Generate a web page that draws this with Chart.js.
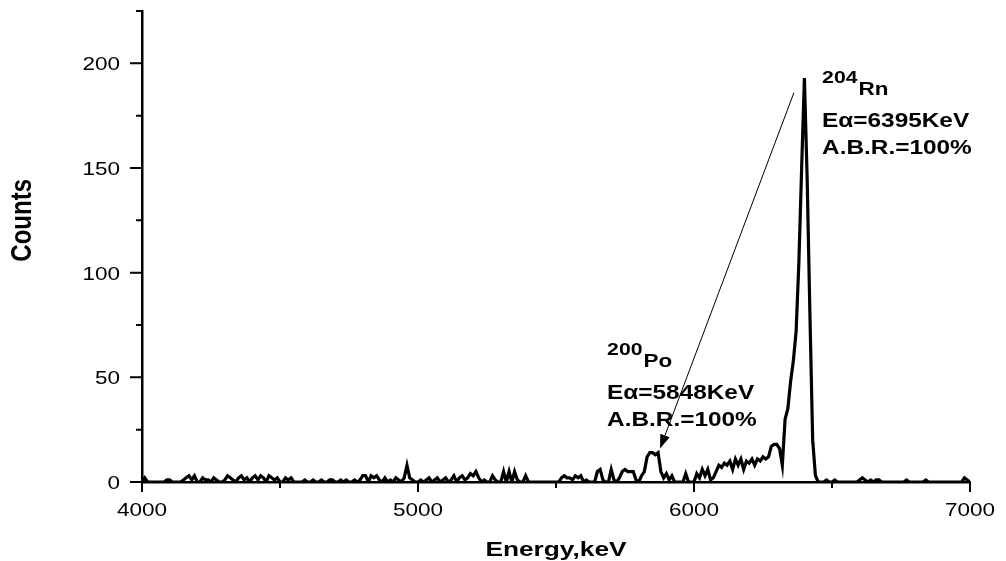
<!DOCTYPE html>
<html>
<head>
<meta charset="utf-8">
<script src="https://cdn.jsdelivr.net/npm/chart.js@4.4.0/dist/chart.umd.min.js"></script>
<style>
html, body { margin: 0; padding: 0; background: #fff; }
</style>
</head>
<body>
<canvas id="spectrumChart" width="1006" height="561"></canvas>
<script>
// alpha spectrum, 10 keV bins starting at 4000 keV
const binStart = 4000
const binWidth = 10
const counts = [
    0, 2, 0, 0, 0, 0, 0, 0, 0, 1,
    1, 0, 0, 0, 0, 1, 2, 3, 1, 3,
    0, 0, 2, 1, 1, 0, 2, 1, 0, 0,
    1, 3, 2, 1, 0, 2, 3, 1, 2, 0,
    2, 3, 1, 3, 2, 0, 3, 2, 1, 2,
    0, 0, 2, 1, 2, 0, 0, 0, 0, 1,
    0, 0, 1, 0, 0, 1, 0, 0, 1, 1,
    0, 0, 1, 0, 1, 0, 0, 1, 0, 1,
    3, 3, 0, 3, 2, 3, 1, 0, 2, 0,
    1, 0, 2, 1, 0, 2, 8, 2, 1, 0,
    0, 1, 0, 1, 2, 0, 1, 2, 0, 1,
    2, 0, 1, 3, 0, 2, 3, 1, 2, 4,
    3, 5, 2, 0, 1, 0, 0, 3, 1, 0,
    0, 5, 0, 5, 0, 5, 1, 0, 0, 3,
    0, 0, 0, 0, 0, 0, 0, 0, 0, 0,
    0, 0, 2, 3, 2, 2, 1, 3, 2, 3,
    0, 1, 0, 0, 0, 5, 6, 1, 0, 0,
    6, 1, 0, 2, 5, 6, 5, 5, 5, 1,
    0, 3, 5, 12, 14, 14, 13, 14, 5, 2,
    4, 1, 3, 0, 0, 0, 0, 4, 0, 0,
    0, 4, 2, 6, 3, 6, 1, 2, 5, 8,
    7, 9, 8, 10, 6, 11, 8, 11, 6, 10,
    9, 11, 8, 11, 10, 12, 11, 12, 17, 18,
    18, 16, 8, 30, 35, 48, 58, 72, 105, 150,
    193, 145, 80, 20, 3, 0, 0, 0, 1, 0,
    0, 1, 0, 0, 0, 0, 0, 0, 0, 0,
    1, 2, 1, 0, 1, 0, 1, 1, 0, 0,
    0, 0, 0, 0, 0, 0, 0, 1, 0, 0,
    0, 0, 0, 0, 1, 0, 0, 0, 0, 0,
    0, 0, 0, 0, 0, 0, 0, 0, 2, 1,
    0
]

const xMajorTicks = [4000, 5000, 6000, 7000]
const xMinorTicks = [4500, 5500, 6500]
const yMajorTicks = [0, 50, 100, 150, 200]
const yMinorTicks = [25, 75, 125, 175, 225]

const peakLabels = [
    {mass: '204', element: 'Rn', energyText: 'Eα=6395KeV', branchText: 'A.B.R.=100%', energy: 6464, count: 190.6},
    {mass: '200', element: 'Po', energyText: 'Eα=5848KeV', branchText: 'A.B.R.=100%', energy: 5685, count: 60.7}
]
// arrow from the Rn peak label area down to the Po peak
const arrowFrom = {energy: 6362, count: 186}
const arrowTo = {energy: 5877, count: 16}

const FONT = "'Liberation Sans', Arial, sans-serif"
const STRETCH = 1.25

function drawStretched(ctx, text, x, y, font, align) {
    ctx.save()
    ctx.font = font
    ctx.translate(x, y)
    ctx.scale(STRETCH, 1)
    ctx.textAlign = align
    ctx.textBaseline = 'alphabetic'
    ctx.fillText(text, 0, 0)
    ctx.restore()
}

const decorations = {
    id: 'decorations',
    afterDraw(chart) {
        const {ctx, chartArea, scales: {x, y}} = chart
        ctx.save()
        ctx.strokeStyle = '#000'
        ctx.fillStyle = '#000'
        ctx.lineWidth = 2

        // axis ticks
        ctx.beginPath()
        xMajorTicks.forEach(v => {
            const px = x.getPixelForValue(v)
            ctx.moveTo(px, chartArea.bottom)
            ctx.lineTo(px, chartArea.bottom + 10)
        })
        xMinorTicks.forEach(v => {
            const px = x.getPixelForValue(v)
            ctx.moveTo(px, chartArea.bottom)
            ctx.lineTo(px, chartArea.bottom + 6)
        })
        yMajorTicks.forEach(v => {
            const py = y.getPixelForValue(v)
            ctx.moveTo(chartArea.left, py)
            ctx.lineTo(chartArea.left - 12, py)
        })
        yMinorTicks.forEach(v => {
            const py = y.getPixelForValue(v)
            ctx.moveTo(chartArea.left, py)
            ctx.lineTo(chartArea.left - 6, py)
        })
        ctx.stroke()

        // tick labels
        const tickFont = `18px ${FONT}`
        xMajorTicks.forEach(v => {
            drawStretched(ctx, String(v), x.getPixelForValue(v), chartArea.bottom + 34, tickFont, 'center')
        })
        yMajorTicks.forEach(v => {
            drawStretched(ctx, String(v), chartArea.left - 22, y.getPixelForValue(v) + 7, tickFont, 'right')
        })

        // axis titles
        drawStretched(ctx, 'Energy,keV', (chartArea.left + chartArea.right) / 2, chartArea.bottom + 74, `bold 21px ${FONT}`, 'center')
        ctx.save()
        ctx.font = `bold 24px ${FONT}`
        ctx.translate(chartArea.left - 119, y.getPixelForValue(125))
        ctx.scale(STRETCH, 1)
        ctx.rotate(-Math.PI / 2)
        ctx.textAlign = 'center'
        ctx.textBaseline = 'middle'
        ctx.fillText('Counts', 0, 0)
        ctx.restore()

        // peak labels
        peakLabels.forEach(lbl => {
            const px = x.getPixelForValue(lbl.energy)
            const py = y.getPixelForValue(lbl.count)
            const bold = `bold 19.5px ${FONT}`
            drawStretched(ctx, lbl.mass, px, py, `bold 17px ${FONT}`, 'left')
            ctx.font = `bold 17px ${FONT}`
            const massW = ctx.measureText(lbl.mass).width * STRETCH
            drawStretched(ctx, lbl.element, px + massW + 1, py + 12, `bold 18px ${FONT}`, 'left')
            drawStretched(ctx, lbl.energyText, px, py + 44, bold, 'left')
            drawStretched(ctx, lbl.branchText, px, py + 71, bold, 'left')
        })

        // arrow
        const x1 = x.getPixelForValue(arrowFrom.energy)
        const y1 = y.getPixelForValue(arrowFrom.count)
        const x2 = x.getPixelForValue(arrowTo.energy)
        const y2 = y.getPixelForValue(arrowTo.count)
        const ang = Math.atan2(y2 - y1, x2 - x1)
        const headLen = 14
        const headHalf = 5
        const bx = x2 - headLen * Math.cos(ang)
        const by = y2 - headLen * Math.sin(ang)
        ctx.lineWidth = 1
        ctx.beginPath()
        ctx.moveTo(x1, y1)
        ctx.lineTo(bx, by)
        ctx.stroke()
        ctx.beginPath()
        ctx.moveTo(x2, y2)
        ctx.lineTo(bx + headHalf * Math.sin(ang), by - headHalf * Math.cos(ang))
        ctx.lineTo(bx - headHalf * Math.sin(ang), by + headHalf * Math.cos(ang))
        ctx.closePath()
        ctx.fill()

        ctx.restore()
    }
}

const spectrumCtx = document.getElementById('spectrumChart').getContext('2d')

new Chart(spectrumCtx, {
    type: 'line',
    data: {
        datasets: [{
            data: counts.map((c, i) => ({x: binStart + i * binWidth, y: c})),
            borderColor: '#000',
            borderWidth: 3.2,
            pointRadius: 0,
            tension: 0,
            fill: false
        }]
    },
    options: {
        responsive: false,
        animation: false,
        layout: {padding: {left: 142, right: 36, top: 11, bottom: 79}},
        plugins: {
            legend: {display: false},
            tooltip: {enabled: false}
        },
        scales: {
            x: {
                type: 'linear',
                min: 4000,
                max: 7000,
                grid: {display: false, drawTicks: false},
                ticks: {display: false},
                border: {display: true, color: '#000', width: 2.5}
            },
            y: {
                min: 0,
                max: 225,
                grid: {display: false, drawTicks: false},
                ticks: {display: false},
                border: {display: true, color: '#000', width: 2.5}
            }
        }
    },
    plugins: [decorations]
})
</script>
</body>
</html>
